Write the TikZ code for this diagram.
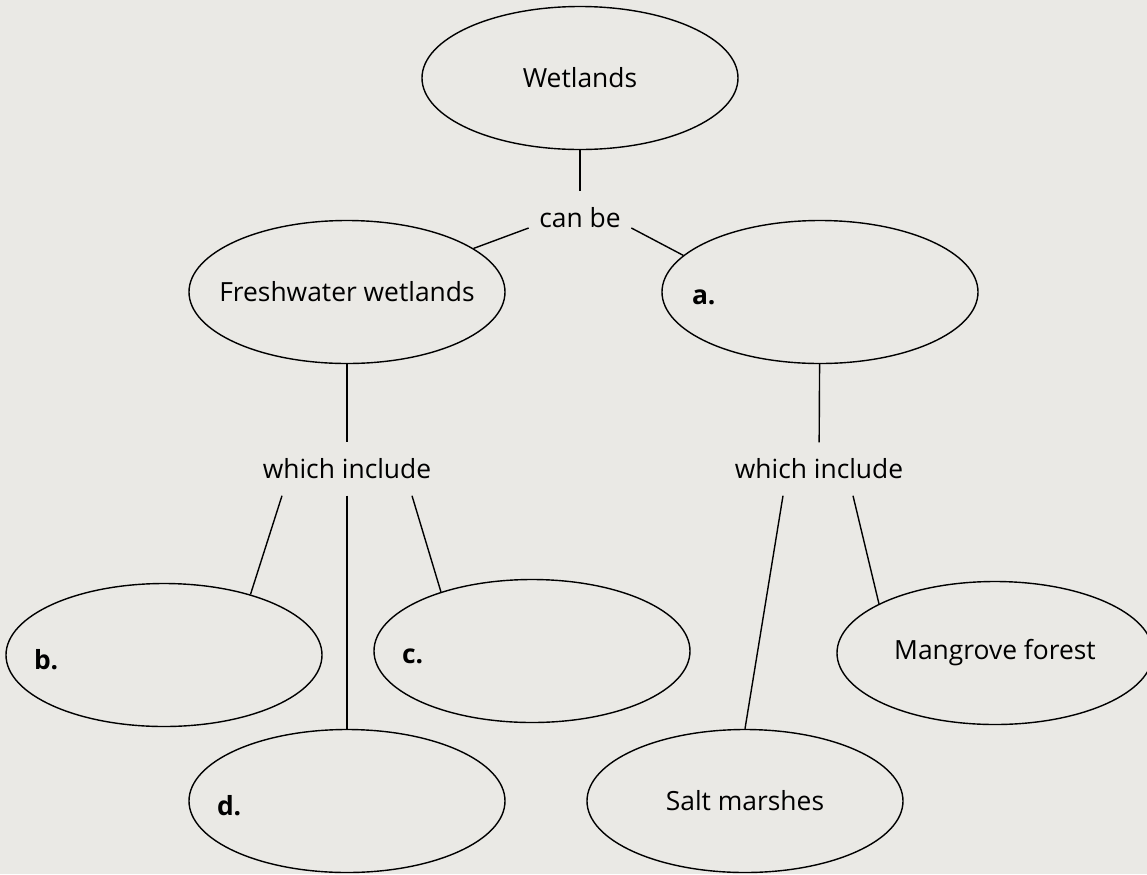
\documentclass[tikz,border=0pt]{standalone}
\usepackage{fontspec}
\setmainfont{Open Sans}
\usetikzlibrary{shapes.geometric,positioning}
\definecolor{paper}{RGB}{234,233,229}
\begin{document}
\begin{tikzpicture}[x=0.5pt, y=-0.5pt, line width=0.7pt,
    every node/.style={font=\fontsize{13.2}{15}\selectfont},
    bubble/.style={draw, ellipse, inner sep=0pt,
      minimum width=158pt, minimum height=71.5pt},
    linkword/.style={inner xsep=5pt, inner ysep=0pt, minimum height=26pt},
    blank/.style={inner sep=0pt, yshift=-2.5pt, font=\fontsize{13.2}{15}\selectfont\bfseries}]
      \useasboundingbox (0,0) rectangle (1147,874);
      \fill[paper] (0,0) rectangle (1147,874);
      %
      \node[bubble, label=center:Wetlands] (wet) at (580,78) {};
      \node[linkword] (cb) at (580,218) {can be};
      %
      \node[bubble, label=center:Freshwater wetlands] (fresh) at (347,292) {};
      \node[bubble] (a) at (820,292) {};
      \node[blank, right=15pt of a.west] (la) {a.};
      %
      \node[linkword] (wi1) at (347,469) {which include};
      \node[linkword] (wi2) at (819,469) {which include};
      %
      \node[bubble] (b) at (164,655) {};
      \node[blank, right=14pt of b.west] (lb) {b.};
      \node[bubble] (c) at (532,651) {};
      \node[blank, right=14pt of c.west] (lc) {c.};
      \node[bubble] (d) at (347,801) {};
      \node[blank, right=14pt of d.west] (ld) {d.};
      %
      \node[bubble, label=center:Salt marshes] (salt) at (745,801) {};
      \node[bubble, label=center:Mangrove forest] (mang) at (995,653) {};
      %
      \draw (wet) -- (cb);
      \draw (cb.191) -- (fresh.19);
      \draw (cb.349) -- (a.165);
      \draw (fresh) -- (wi1);
      \draw (a) -- (wi2);
      % left branch
      \draw ([xshift=-32.5pt]wi1.south) -- (b.35);
      \draw (wi1.south) -- (d.north);
      \draw ([xshift=32.5pt]wi1.south) -- (c.147);
      % right branch
      \draw ([xshift=-18pt]wi2.south) -- (salt.north);
      \draw ([xshift=17pt]wi2.south) -- (mang.157);
    \end{tikzpicture}
\end{document}
